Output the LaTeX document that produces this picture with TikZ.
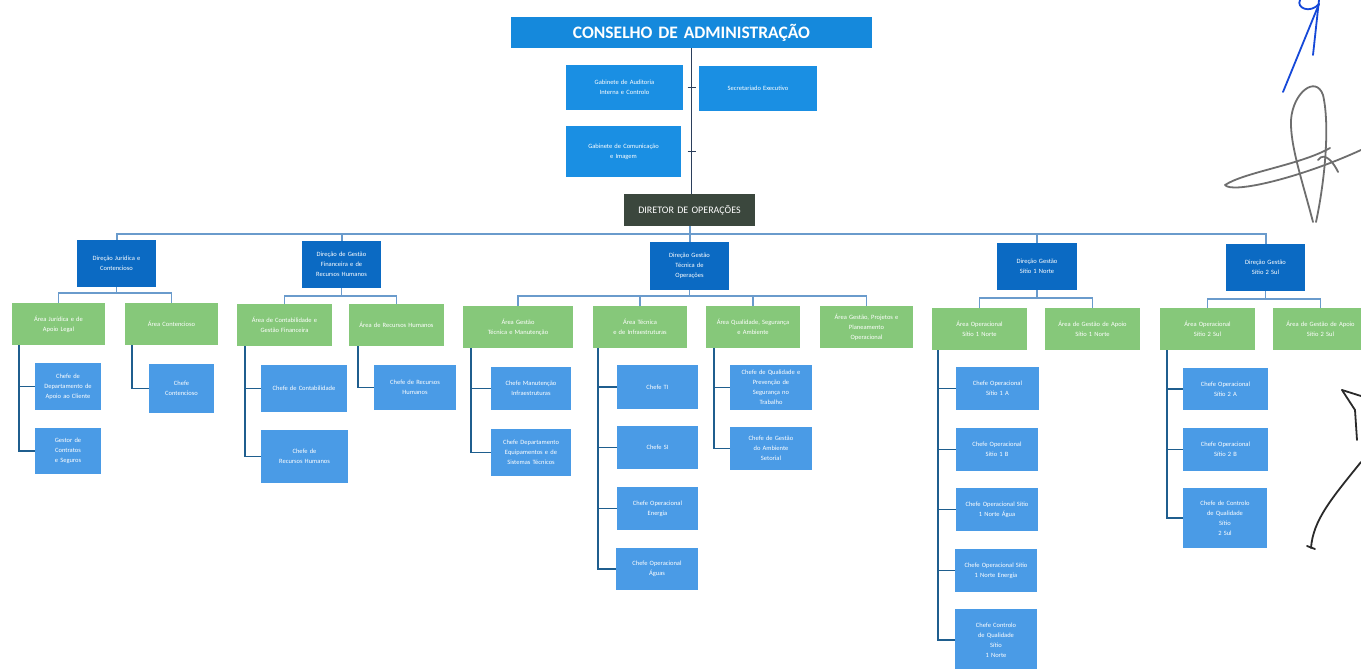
\documentclass[tikz,border=0pt]{standalone}
\usepackage{fontspec}
\setmainfont{Carlito}
\definecolor{consblue}{HTML}{1589DC}
\definecolor{advblue}{HTML}{1A8FE3}
\definecolor{dirgray}{HTML}{3B473D}
\definecolor{darkblue}{HTML}{0B6AC3}
\definecolor{greenbox}{HTML}{86C87A}
\definecolor{leafblue}{HTML}{4A9BE6}
\definecolor{navyline}{HTML}{2B3F5C}
\definecolor{busblue}{HTML}{6A9BCC}
\definecolor{lnblue}{HTML}{1F5E8E}
\definecolor{sigblue}{HTML}{1548D8}
\definecolor{siggray}{HTML}{6E6E6E}
\definecolor{sigblack}{HTML}{2A2A2A}
\tikzset{
  base/.style={rectangle, inner sep=0pt, outer sep=0pt, align=center, text=white,
    font=\fontsize{6.5}{10}\selectfont},
  consb/.style={base, fill=consblue, font=\bfseries\fontsize{17.5}{19}\selectfont},
  adv/.style={base, fill=advblue},
  dirb/.style={base, fill=dirgray, font=\fontsize{10}{12}\selectfont},
  dark/.style={base, fill=darkblue},
  grn/.style={base, fill=greenbox},
  leaf/.style={base, fill=leafblue},
  topline/.style={draw=navyline, line width=1.2pt},
  bus/.style={draw=busblue, line width=2pt},
  subbus/.style={draw=busblue, line width=1.6pt},
  leafline/.style={draw=lnblue, line width=1.8pt},
  sig/.style={line width=1.8pt, line cap=round, line join=round},
}
\newcommand\mybox[7]{\pgfmathsetmacro\mytw{#5-6}\node[#1,anchor=north west,minimum width=#5pt,minimum height=#6pt,text width=\mytw pt] (#2) at (#3,#4) {#7};}
\begin{document}
\begin{tikzpicture}[x=1pt,y=-1pt]
\useasboundingbox[fill=white] (0,0) rectangle (1361,669);

% top level
\mybox{consb}{cons}{511}{17}{361}{31}{CONSELHO DE ADMINISTRAÇÃO}
\mybox{adv}{A1}{566}{65}{117}{45}{Gabinete de Auditoria\\Interna e Controlo}
\mybox{adv}{A2}{699}{66}{118}{45}{Secretariado Executivo}
\mybox{adv}{A3}{566}{126}{115}{51}{Gabinete de Comunicação\\e Imagem}
\mybox{dirb}{dir}{624}{194}{131}{32}{DIRETOR DE OPERAÇÕES}

\draw[topline] (cons.south) -- (cons.south |- dir.north);
\draw[topline] ([xshift=-4pt]cons.south |- A1.east) -- ([xshift=4pt]cons.south |- A1.east);
\draw[topline] ([xshift=-4pt]cons.south |- A3.east) -- ([xshift=4pt]cons.south |- A3.east);

% directions
\mybox{dark}{D1}{77}{240}{79}{47}{Direção Jurídica e\\Contencioso}
\mybox{dark}{D2}{302}{241}{79}{47}{Direção de Gestão\\Financeira e de\\Recursos Humanos}
\mybox{dark}{D3}{650}{242}{79}{48}{Direção Gestão\\Técnica de\\Operações}
\mybox{dark}{D4}{997}{243}{80}{47}{Direção Gestão\\Sítio 1 Norte}
\mybox{dark}{D5}{1226}{244}{79}{47}{Direção Gestão\\Sítio 2 Sul}

\foreach \d in {D1,D2,D3,D4,D5}
  \draw[bus] (dir.south) -- ++(0,8) -| (\d.north);

% areas
\mybox{grn}{G1a}{12}{303}{93}{42}{Área Jurídica e de\\Apoio Legal}
\mybox{grn}{G1b}{125}{303}{93}{42}{Área Contencioso}
\mybox{grn}{G2a}{237}{304}{95}{42}{Área de Contabilidade e\\Gestão Financeira}
\mybox{grn}{G2b}{349}{304}{95}{42}{Área de Recursos Humanos}
\mybox{grn}{G3a}{463}{306}{110}{42}{Área Gestão\\Técnica e Manutenção}
\mybox{grn}{G3b}{593}{306}{94}{42}{Área Técnica\\e de Infraestruturas}
\mybox{grn}{G3c}{706}{306}{94}{42}{Área Qualidade, Segurança\\e Ambiente}
\mybox{grn}{G3d}{820}{306}{93}{42}{Área Gestão, Projetos e\\Planeamento\\Operacional}
\mybox{grn}{G4a}{932}{308}{95}{42}{Área Operacional\\Sítio 1 Norte}
\mybox{grn}{G4b}{1045}{308}{95}{42}{Área de Gestão de Apoio\\Sítio 1 Norte}
\mybox{grn}{G5a}{1160}{308}{95}{42}{Área Operacional\\Sítio 2 Sul}
\mybox{grn}{G5b}{1273}{308}{95}{42}{Área de Gestão de Apoio\\Sítio 2 Sul}

\draw[subbus] (D1.south) -- ++(0,6) -| (G1a.north);
\draw[subbus] (D1.south) -- ++(0,6) -| (G1b.north);
\draw[subbus] (D2.south) -- ++(0,8) -| (G2a.north);
\draw[subbus] (D2.south) -- ++(0,8) -| (G2b.north);
\foreach \g in {G3a,G3b,G3c,G3d}
  \draw[subbus] (D3.south) -- ++(0,6) -| (\g.north);
\draw[subbus] (D4.south) -- ++(0,8) -| (G4a.north);
\draw[subbus] (D4.south) -- ++(0,8) -| (G4b.north);
\draw[subbus] (D5.south) -- ++(0,8) -| (G5a.north);
\draw[subbus] (D5.south) -- ++(0,8) -| (G5b.north);

% units
\mybox{leaf}{L1a1}{35}{363}{66}{47}{Chefe de\\Departamento de\\Apoio ao Cliente}
\mybox{leaf}{L1a2}{35}{428}{66}{46}{Gestor de\\Contratos\\e Seguros}
\mybox{leaf}{L1b1}{149}{364}{65}{49}{Chefe\\Contencioso}
\mybox{leaf}{L2a1}{261}{365}{86}{47}{Chefe de Contabilidade}
\mybox{leaf}{L2a2}{261}{430}{87}{53}{Chefe de\\Recursos Humanos}
\mybox{leaf}{L2b1}{374}{365}{82}{45}{Chefe de Recursos\\Humanos}
\mybox{leaf}{L3a1}{491}{367}{80}{43}{Chefe Manutenção\\Infraestruturas}
\mybox{leaf}{L3a2}{491}{429}{80}{47}{Chefe Departamento\\Equipamentos e de\\Sistemas Técnicos}
\mybox{leaf}{L3b1}{617}{365}{81}{44}{Chefe TI}
\mybox{leaf}{L3b2}{617}{426}{81}{43}{Chefe SI}
\mybox{leaf}{L3b3}{617}{487}{81}{43}{Chefe Operacional\\Energia}
\mybox{leaf}{L3b4}{616}{548}{82}{42}{Chefe Operacional\\Águas}
\mybox{leaf}{L3c1}{730}{365}{82}{45}{Chefe de Qualidade e\\Prevenção de\\Segurança no\\Trabalho}
\mybox{leaf}{L3c2}{730}{427}{82}{43}{Chefe de Gestão\\do Ambiente\\Setorial}
\mybox{leaf}{L4a1}{956}{367}{83}{43}{Chefe Operacional\\Sítio 1 A}
\mybox{leaf}{L4a2}{956}{428}{82}{43}{Chefe Operacional\\Sítio 1 B}
\mybox{leaf}{L4a3}{956}{488}{82}{43}{Chefe Operacional Sítio\\1 Norte Água}
\mybox{leaf}{L4a4}{955}{549}{82}{43}{Chefe Operacional Sítio\\1 Norte Energia}
\mybox{leaf}{L4a5}{955}{609}{82}{62}{Chefe Controlo\\de Qualidade\\Sítio\\1 Norte}
\mybox{leaf}{L5a1}{1183}{368}{85}{42}{Chefe Operacional\\Sítio 2 A}
\mybox{leaf}{L5a2}{1183}{428}{85}{43}{Chefe Operacional\\Sítio 2 B}
\mybox{leaf}{L5a3}{1183}{488}{84}{60}{Chefe de Controlo\\de Qualidade\\Sítio\\2 Sul}

\foreach \l in {L1a1,L1a2} \draw[leafline] ([xshift=7pt]G1a.south west) |- (\l.west);
\draw[leafline] ([xshift=7pt]G1b.south west) |- (L1b1.west);
\foreach \l in {L2a1,L2a2} \draw[leafline] ([xshift=8pt]G2a.south west) |- (\l.west);
\draw[leafline] ([xshift=9pt]G2b.south west) |- (L2b1.west);
\foreach \l in {L3a1,L3a2} \draw[leafline] ([xshift=8pt]G3a.south west) |- (\l.west);
\foreach \l in {L3b1,L3b2,L3b3,L3b4} \draw[leafline] ([xshift=5pt]G3b.south west) |- (\l.west);
\foreach \l in {L3c1,L3c2} \draw[leafline] ([xshift=8pt]G3c.south west) |- (\l.west);
\foreach \l in {L4a1,L4a2,L4a3,L4a4,L4a5} \draw[leafline] ([xshift=6pt]G4a.south west) |- (\l.west);
\foreach \l in {L5a1,L5a2,L5a3} \draw[leafline] ([xshift=7pt]G5a.south west) |- (\l.west);

% handwritten marks
\draw[sig, sigblue] (1283,92) -- (1319,4);
\draw[sig, sigblue] (1313,55) -- (1319,0);
\draw[sig, sigblue] (1319,4) .. controls (1310,14) and (1296,8) .. (1300,0);
\draw[sig, siggray] (1313,222) .. controls (1302,180) and (1290,145) .. (1291,120)
  .. controls (1293,92) and (1316,75) .. (1323,95)
  .. controls (1330,125) and (1325,180) .. (1316,222);
\draw[sig, siggray] (1330,148) .. controls (1300,165) and (1245,172) .. (1225,185)
  .. controls (1232,194) and (1300,178) .. (1361,150);
\draw[sig, siggray] (1318,160) .. controls (1325,150) and (1335,165) .. (1338,172);
\draw[sig, sigblack] (1342,390) -- (1361,396);
\draw[sig, sigblack] (1342,390) -- (1355,410) -- (1357,440);
\draw[sig, sigblack] (1361,462) .. controls (1332,498) and (1313,520) .. (1311,548);
\draw[sig, sigblack] (1307,546) -- (1315,549);
\end{tikzpicture}
\end{document}
